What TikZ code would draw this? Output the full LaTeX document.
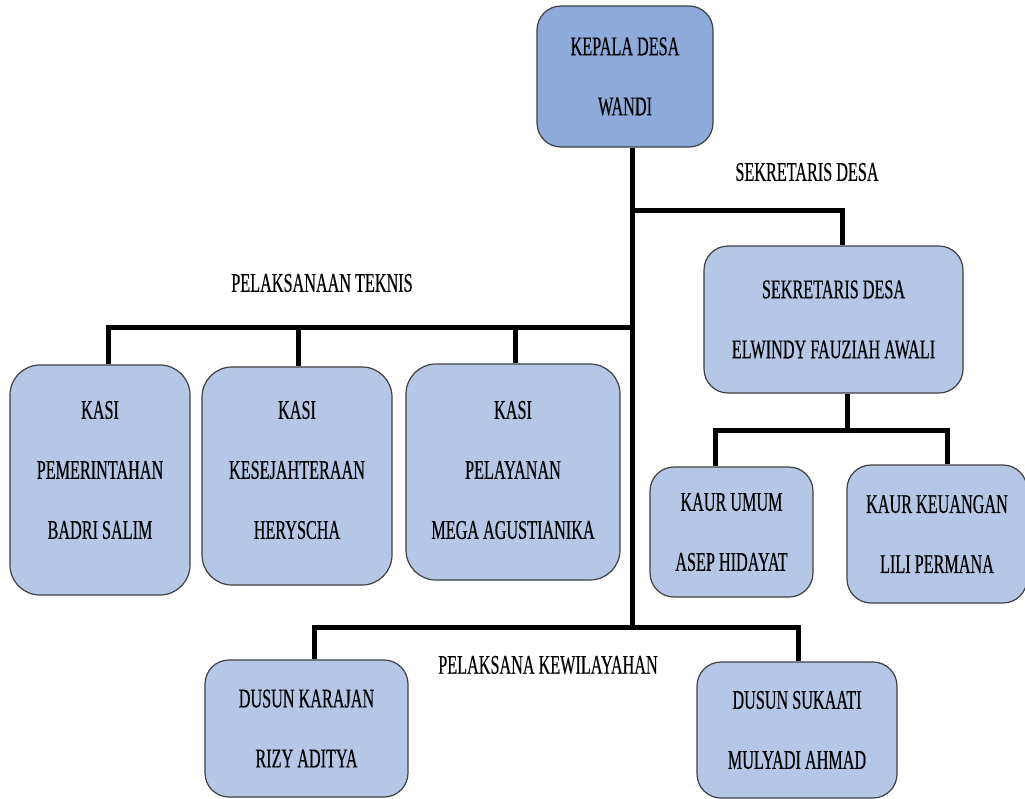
\documentclass[tikz,border=0pt]{standalone}
\usepackage{fontspec}
\setmainfont{Liberation Serif}[FakeStretch=0.6,FakeBold=0.4]
\begin{document}
\begin{tikzpicture}[x=1pt,y=-1pt,
  box/.style={draw=black!75, line width=1.2pt, rounded corners=24pt, fill=boxblue, align=center, inner sep=0pt},
  conn/.style={draw=black, line width=5pt},
  txt/.style={font=\fontsize{27}{60}\selectfont, text=black, align=center},
  lbl/.style={font=\fontsize{27}{30}\selectfont, inner sep=0pt}]
\definecolor{boxblue}{HTML}{B4C7E7}
\definecolor{headblue}{HTML}{8EAADB}
\useasboundingbox (0,0) rectangle (1025,798);
% boxes
\node[box, fill=headblue, minimum width=176pt, minimum height=141pt, txt] (kd) at (625,76.5) {KEPALA DESA\\WANDI};
\node[box, minimum width=259pt, minimum height=147pt, txt] (sek) at (833.5,319.5) {SEKRETARIS DESA\\ELWINDY FAUZIAH AWALI};
\node[box, minimum width=163pt, minimum height=130pt, txt] (ku) at (731.5,532) {KAUR UMUM\\ASEP HIDAYAT};
\node[box, minimum width=180pt, minimum height=138pt, txt] (kk) at (937,534) {KAUR KEUANGAN\\LILI PERMANA};
\node[box, minimum width=180pt, minimum height=230pt, rounded corners=30pt] (k1) at (100,480) {};
\node[box, minimum width=190pt, minimum height=218pt, rounded corners=30pt] (k2) at (297,476) {};
\node[box, minimum width=214pt, minimum height=216pt, rounded corners=30pt] (k3) at (513,472) {};
\node[txt] (k1t) at ([yshift=10pt]k1.center) {KASI\\PEMERINTAHAN\\BADRI SALIM};
\node[txt] (k2t) at ([yshift=6pt]k2.center) {KASI\\KESEJAHTERAAN\\HERYSCHA};
\node[txt] (k3t) at ([yshift=2pt]k3.center) {KASI\\PELAYANAN\\MEGA AGUSTIANIKA};
\node[box, minimum width=203pt, minimum height=137pt, txt] (d1) at (306.5,728.5) {DUSUN KARAJAN\\RIZY ADITYA};
\node[box, minimum width=200pt, minimum height=136pt, txt] (d2) at (797,730) {DUSUN SUKAATI\\MULYADI AHMAD};
% labels
\node[lbl] (lsek) at (807,172) {SEKRETARIS DESA};
\node[lbl] (ltek) at (322,283) {PELAKSANAAN TEKNIS};
\node[lbl] (lkew) at (548,665) {PELAKSANA KEWILAYAHAN};
% junctions
\coordinate (j1) at (632,210);
\coordinate (j2) at (632,327);
\coordinate (j3) at (632,627);
\coordinate (js) at (847,430);
% connectors
\draw[conn] ([xshift=7]kd.south) -- (j3);
\draw[conn] (j1) -| ([xshift=8.5]sek.north);
\draw[conn] ([xshift=13.5]sek.south) -- (js);
\draw[conn] (js) -| ([xshift=-16.5]ku.north);
\draw[conn] (js) -| ([xshift=10]kk.north);
\draw[conn] (j2) -| ([xshift=8]k1.north);
\draw[conn] (j2) -| ([xshift=1]k2.north);
\draw[conn] (j2) -| ([xshift=2]k3.north);
\draw[conn] (j3) -| ([xshift=7.5]d1.north);
\draw[conn] (j3) -| ([xshift=1]d2.north);
\end{tikzpicture}
\end{document}
